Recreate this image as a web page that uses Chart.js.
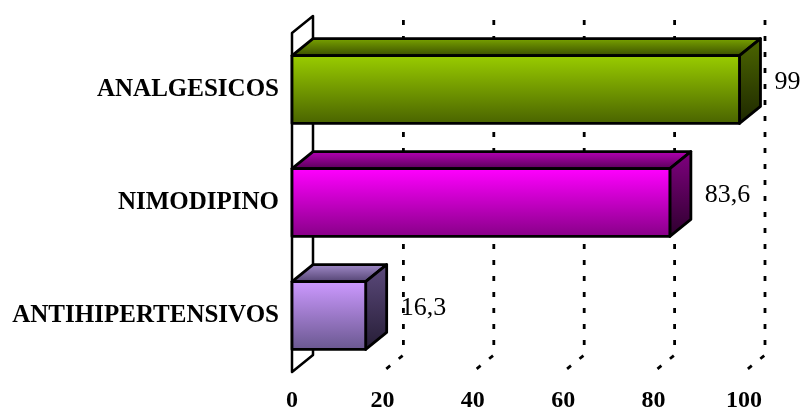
<!DOCTYPE html>
<html>
<head>
<meta charset="utf-8">
<script src="https://cdn.jsdelivr.net/npm/chart.js"></script>
<style>
  html, body { margin: 0; padding: 0; background: #fff; }
  #chart { display: block; }
</style>
</head>
<body>
<canvas id="chart" width="804" height="415"></canvas>
<script>
// Categories and values
const categories = ['ANALGESICOS', 'NIMODIPINO', 'ANTIHIPERTENSIVOS'];
const values = [99, 83.6, 16.3];
const valueLabels = ['99', '83,6', '16,3'];
const xMin = 0;
const xMax = 100;
const xStep = 20;

// Per-bar shading: [light, dark] for front, top and side faces
const frontShades = [['#99cc00', '#4a6400'], ['#ff00ff', '#880088'], ['#cc99ff', '#6a5890']];
const topShades = [['#78a200', '#3c5000'], ['#b400b4', '#5a005a'], ['#a08ac8', '#554574']];
const sideShades = [['#4c6600', '#1e2800'], ['#800080', '#2e002e'], ['#5c4a7c', '#261d36']];

const DX = 21;   // depth offset to the right
const DY = 17;   // depth offset upwards
const SERIF = '"Liberation Serif", "Times New Roman", serif';

function vGrad(ctx, y0, y1, c0, c1) {
    const g = ctx.createLinearGradient(0, y0, 0, y1);
    g.addColorStop(0, c0);
    g.addColorStop(1, c1);
    return g;
}

function poly(ctx, pts, fill) {
    ctx.beginPath();
    ctx.moveTo(pts[0][0], pts[0][1]);
    for (let i = 1; i < pts.length; i++) ctx.lineTo(pts[i][0], pts[i][1]);
    ctx.closePath();
    ctx.fillStyle = fill;
    ctx.fill();
    ctx.stroke();
}

// Left wall and dotted back-wall grid behind the bars, 3D boxes on top
const box3dPlugin = {
    id: 'box3d',
    beforeDatasetsDraw(chart) {
        const { ctx, chartArea: a, scales } = chart;
        const x0 = scales.x.getPixelForValue(xMin);
        ctx.save();
        ctx.strokeStyle = '#000';
        ctx.lineWidth = 2.5;
        ctx.lineJoin = 'round';
        poly(ctx, [[x0, a.top], [x0 + DX, a.top - DY], [x0 + DX, a.bottom - DY], [x0, a.bottom]], '#fff');

        ctx.lineWidth = 2.8;
        ctx.setLineDash([5, 11]);
        for (let v = xMin + xStep; v <= xMax; v += xStep) {
            const x = scales.x.getPixelForValue(v);
            ctx.beginPath();
            ctx.moveTo(x + DX, a.top - DY + 4);
            ctx.lineTo(x + DX, a.bottom - DY);
            ctx.lineTo(x, a.bottom);
            ctx.stroke();
        }
        ctx.restore();
    },
    afterDatasetsDraw(chart) {
        const { ctx } = chart;
        const meta = chart.getDatasetMeta(0);
        ctx.save();
        ctx.strokeStyle = '#000';
        ctx.lineWidth = 2.8;
        ctx.lineJoin = 'round';
        meta.data.forEach((bar, i) => {
            const p = bar.getProps(['x', 'y', 'base', 'height'], true);
            const top = p.y - p.height / 2;
            const bottom = p.y + p.height / 2;
            const left = Math.min(p.base, p.x);
            const right = Math.max(p.base, p.x);
            // top face
            poly(ctx, [[left, top], [right, top], [right + DX, top - DY], [left + DX, top - DY]],
                vGrad(ctx, top - DY, top, topShades[i][0], topShades[i][1]));
            // right face
            poly(ctx, [[right, top], [right + DX, top - DY], [right + DX, bottom - DY], [right, bottom]],
                vGrad(ctx, top - DY, bottom, sideShades[i][0], sideShades[i][1]));
            // front face
            poly(ctx, [[left, top], [right, top], [right, bottom], [left, bottom]],
                vGrad(ctx, top, bottom, frontShades[i][0], frontShades[i][1]));

            // value label beside the bar end
            ctx.fillStyle = '#000';
            ctx.font = '26px ' + SERIF;
            ctx.textAlign = 'left';
            ctx.textBaseline = 'middle';
            ctx.fillText(valueLabels[i], right + DX + 14, p.y - 7);
        });
        ctx.restore();
    }
};

const chart = new Chart(document.getElementById('chart'), {
    type: 'bar',
    data: {
        labels: categories,
        datasets: [{
            data: values,
            backgroundColor: 'rgba(0,0,0,0)',
            borderWidth: 0,
            barPercentage: 0.6,
            categoryPercentage: 1
        }]
    },
    options: {
        indexAxis: 'y',
        responsive: false,
        animation: false,
        layout: { padding: { top: 33, right: 60, left: 0, bottom: 0 } },
        plugins: {
            legend: { display: false },
            tooltip: { enabled: false }
        },
        scales: {
            x: {
                min: xMin,
                max: xMax,
                grid: { display: false, drawTicks: false },
                border: { display: false },
                ticks: {
                    stepSize: xStep,
                    padding: 14,
                    color: '#000',
                    font: { family: SERIF, size: 24, weight: 'bold' }
                },
                afterFit(scale) { scale.height = 43; }
            },
            y: {
                grid: { display: false, drawTicks: false },
                border: { display: false },
                ticks: {
                    padding: 13,
                    color: '#000',
                    font: { family: SERIF, size: 25, weight: 'bold' }
                },
                afterFit(scale) { scale.width = 292; }
            }
        }
    },
    plugins: [box3dPlugin]
});
</script>
</body>
</html>
